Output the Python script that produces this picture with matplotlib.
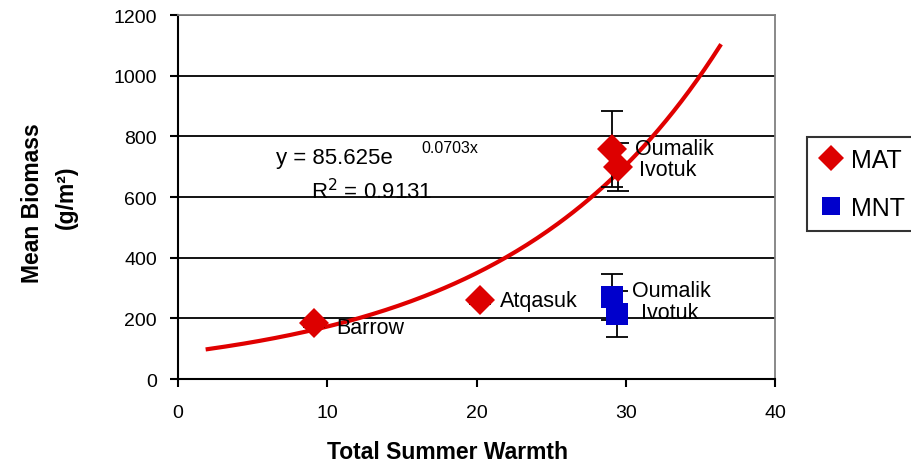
import numpy as np
import matplotlib.pyplot as plt

plt.rcParams['font.family'] = ['Liberation Sans', 'DejaVu Sans']

# site data (x = total summer warmth, y = mean biomass g/m2)
mat_sites = ['Barrow', 'Atqasuk', 'Oumalik', 'Ivotuk']
mat_x = [9.1, 20.2, 29.1, 29.5]
mat_y = [185, 260, 760, 700]
mat_err = [12, 12, 125, 80]

mnt_sites = ['Oumalik', 'Ivotuk']
mnt_x = [29.1, 29.4]
mnt_y = [270, 215]
mnt_err = [75, 75]

# exponential trendline (MAT)
fit_a = 85.625
fit_b = 0.0703
fit_r2 = 0.9131
fit_xmin, fit_xmax = 2.0, 36.3

fig = plt.figure(figsize=(9.12, 4.64), dpi=100)
ax = fig.add_axes([0.195, 0.181, 0.655, 0.784])

ax.set_xlim(0, 40)
ax.set_ylim(0, 1200)
ax.set_xticks([0, 10, 20, 30, 40])
ax.set_yticks(range(0, 1201, 200))
ax.yaxis.grid(True, color='black', linewidth=1.3)
ax.set_axisbelow(True)

for s in ['top', 'right']:
    ax.spines[s].set_color('#808080')
    ax.spines[s].set_linewidth(1.3)
for s in ['left', 'bottom']:
    ax.spines[s].set_color('black')
    ax.spines[s].set_linewidth(1.5)
ax.tick_params(direction='out', length=6, width=1.5, labelsize=14)
ax.tick_params(axis='y', pad=9)
ax.tick_params(axis='x', pad=12)

xf = np.linspace(fit_xmin, fit_xmax, 200)
ax.plot(xf, fit_a * np.exp(fit_b * xf), color='#e00000', linewidth=3, zorder=2)

ax.errorbar(mat_x, mat_y, yerr=mat_err, fmt='none', ecolor='black',
            elinewidth=1.3, capsize=8, capthick=1.3, zorder=3)
ax.errorbar(mnt_x, mnt_y, yerr=mnt_err, fmt='none', ecolor='black',
            elinewidth=1.3, capsize=8, capthick=1.3, zorder=3)
ax.plot(mat_x, mat_y, 'D', color='#dd0000', markersize=15, markeredgewidth=0,
        label='MAT', zorder=4)
ax.plot(mnt_x, mnt_y, 's', color='#0000cc', markersize=16, markeredgewidth=0,
        label='MNT', zorder=4)

mat_off = [(16, -3), (15, 0), (16, 0), (15, -2)]
for name, x, y, off in zip(mat_sites, mat_x, mat_y, mat_off):
    ax.annotate(name, (x, y), xytext=off, textcoords='offset points',
                fontsize=15.5, va='center')
mnt_off = [(14, 5), (17, 1)]
for name, x, y, off in zip(mnt_sites, mnt_x, mnt_y, mnt_off):
    ax.annotate(name, (x, y), xytext=off, textcoords='offset points',
                fontsize=15.5, va='center')

ax.text(6.6, 732, 'y = 85.625e', fontsize=16, va='center')
ax.text(16.3, 765, '%.4fx' % fit_b, fontsize=11.5, va='center')
ax.text(8.9, 622, 'R$^{2}$ = %.4f' % fit_r2, fontsize=16, va='center')

ax.set_xlabel('Total Summer Warmth', fontsize=16.5, fontweight='bold')
ax.xaxis.set_label_coords(0.452, -0.198)
ax.xaxis.label.set_verticalalignment('center')
fig.text(0.036, 0.5625, 'Mean Biomass', rotation=90, fontsize=16.5,
         fontweight='bold', ha='center', va='center')
fig.text(0.073, 0.575, '(g/m²)', rotation=90, fontsize=16.5,
         fontweight='bold', ha='center', va='center')

leg = fig.legend(loc='upper left', bbox_to_anchor=(0.885, 0.7026), fontsize=18,
                 frameon=True, fancybox=False, edgecolor='black',
                 borderaxespad=0, handlelength=1.0, handletextpad=0.3,
                 labelspacing=0.95, borderpad=0.45, markerscale=0.85)
leg.get_frame().set_linewidth(1.5)

fig.savefig('out.png', dpi=100)
